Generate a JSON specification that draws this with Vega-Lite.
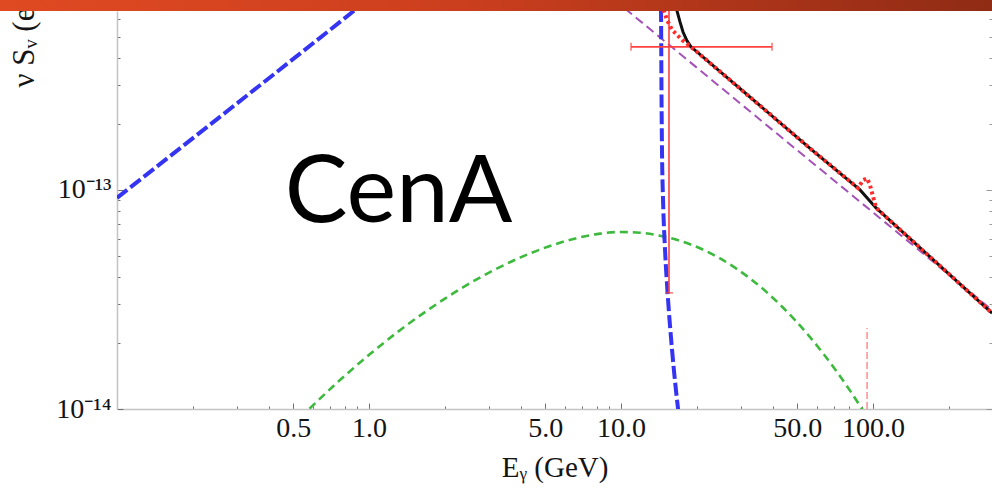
{
  "$schema": "https://vega.github.io/schema/vega-lite/v6.json",
  "width": 875,
  "height": 398,
  "autosize": {"type": "none"},
  "padding": {"left": 117, "top": 11, "right": 0, "bottom": 86},
  "background": "white",
  "config": {
    "view": {"stroke": null},
    "axis": {"grid": false}
  },
  "datasets": {
    "curves": [
      {"c": "blue", "E": 0.1, "S": 9.2e-14},
      {"c": "blue", "E": 1.0, "S": 7.45e-13},
      {"c": "blue", "E": 1.5, "S": 1.08e-12},
      {"c": "blue", "E": 5.0, "S": 3.0e-12},
      {"c": "blue", "E": 14.28, "S": 1.12e-12},
      {"c": "blue", "E": 14.41, "S": 6.56e-13},
      {"c": "blue", "E": 14.48, "S": 2.58e-13},
      {"c": "blue", "E": 14.54, "S": 1.52e-13},
      {"c": "blue", "E": 14.68, "S": 9.0e-14},
      {"c": "blue", "E": 14.95, "S": 5.32e-14},
      {"c": "blue", "E": 15.37, "S": 3.15e-14},
      {"c": "blue", "E": 15.94, "S": 1.86e-14},
      {"c": "blue", "E": 16.84, "S": 1.0e-14},
      {"c": "blue", "E": 17.47, "S": 7.2e-15},

      {"c": "green", "E": 0.532, "S": 9.15e-15},
      {"c": "green", "E": 0.578, "S": 1.0e-14},
      {"c": "green", "E": 0.767, "S": 1.356e-14},
      {"c": "green", "E": 1.009, "S": 1.781e-14},
      {"c": "green", "E": 1.327, "S": 2.29e-14},
      {"c": "green", "E": 1.746, "S": 2.873e-14},
      {"c": "green", "E": 2.297, "S": 3.527e-14},
      {"c": "green", "E": 3.021, "S": 4.215e-14},
      {"c": "green", "E": 3.973, "S": 4.909e-14},
      {"c": "green", "E": 5.228, "S": 5.549e-14},
      {"c": "green", "E": 6.876, "S": 6.075e-14},
      {"c": "green", "E": 8.254, "S": 6.316e-14},
      {"c": "green", "E": 9.909, "S": 6.43e-14},
      {"c": "green", "E": 11.9, "S": 6.377e-14},
      {"c": "green", "E": 14.28, "S": 6.184e-14},
      {"c": "green", "E": 18.79, "S": 5.65e-14},
      {"c": "green", "E": 24.71, "S": 4.867e-14},
      {"c": "green", "E": 32.5, "S": 3.944e-14},
      {"c": "green", "E": 42.76, "S": 2.994e-14},
      {"c": "green", "E": 56.23, "S": 2.128e-14},
      {"c": "green", "E": 73.96, "S": 1.412e-14},
      {"c": "green", "E": 90.44, "S": 1.0e-14},
      {"c": "green", "E": 97.3, "S": 8.74e-15},

      {"c": "purple", "E": 5.73, "S": 1.18e-12},
      {"c": "purple", "E": 49.93, "S": 1.52e-13},
      {"c": "purple", "E": 296.6, "S": 2.83e-14},

      {"c": "black", "E": 16.23, "S": 9.1e-13},
      {"c": "black", "E": 16.68, "S": 6.56e-13},
      {"c": "black", "E": 17.14, "S": 5.85e-13},
      {"c": "black", "E": 17.62, "S": 5.26e-13},
      {"c": "black", "E": 18.28, "S": 4.79e-13},
      {"c": "black", "E": 18.96, "S": 4.5e-13},
      {"c": "black", "E": 57.3, "S": 1.52e-13},
      {"c": "black", "E": 88.8, "S": 1.0e-13},
      {"c": "black", "E": 102.8, "S": 8.28e-14},
      {"c": "black", "E": 296.6, "S": 2.74e-14},

      {"c": "red", "E": 14.28, "S": 9.1e-13},
      {"c": "red", "E": 14.81, "S": 6.56e-13},
      {"c": "red", "E": 15.22, "S": 5.97e-13},
      {"c": "red", "E": 15.94, "S": 5.38e-13},
      {"c": "red", "E": 17.47, "S": 4.84e-13},
      {"c": "red", "E": 18.96, "S": 4.5e-13},
      {"c": "red", "E": 57.3, "S": 1.52e-13},
      {"c": "red", "E": 87.2, "S": 1.02e-13},
      {"c": "red", "E": 91.3, "S": 1.11e-13},
      {"c": "red", "E": 94.7, "S": 1.13e-13},
      {"c": "red", "E": 97.3, "S": 1.05e-13},
      {"c": "red", "E": 102.8, "S": 8.28e-14},
      {"c": "red", "E": 296.6, "S": 2.74e-14}
    ],
    "measurement": [
      {"E": 15.5, "Elo": 10.96, "Ehi": 39.73, "S": 4.5e-13, "Slo": 3.39e-14, "Shi": 1.0e-12}
    ],
    "limit": [
      {"E": 94.7, "Slo": 1.0e-14, "Shi": 2.34e-14}
    ],
    "annotation": [
      {"text": "CenA", "E": 1.309, "S": 7.14e-14}
    ],
    "header": [
      {"E0": 0.03, "E1": 400, "S0": 6.56e-13, "S1": 9.0e-13}
    ]
  },
  "layer": [
    {
      "layer": [
        {
          "data": {"name": "curves"},
          "transform": [{"filter": "datum.c == 'green'"}],
          "mark": {"type": "line", "clip": true, "interpolate": "monotone", "color": "#3dba3d", "strokeWidth": 2.6, "strokeDash": [8, 5]},
          "encoding": {
            "x": {
              "field": "E", "type": "quantitative",
              "scale": {"type": "log", "domain": [0.1, 296.5], "nice": false},
              "axis": {
                "orient": "bottom",
                "values": [0.2, 0.3, 0.4, 0.5, 0.6, 0.7, 0.8, 0.9, 1, 2, 3, 4, 5, 6, 7, 8, 9, 10, 20, 30, 40, 50, 60, 70, 80, 90, 100, 200],
                "labelExpr": "(datum.value == 0.5 || datum.value == 1 || datum.value == 5 || datum.value == 10 || datum.value == 50 || datum.value == 100) ? format(datum.value, '.1f') : ''",
                "tickSize": {"condition": {"test": "datum.value == 0.5 || datum.value == 1 || datum.value == 5 || datum.value == 10 || datum.value == 50 || datum.value == 100", "value": -6}, "value": -3},
                "tickColor": "#707070",
                "tickWidth": 1,
                "domainColor": "#c4c4c4",
                "domainWidth": 1.5,
                "labelFont": "Liberation Serif",
                "labelFontSize": 28,
                "labelColor": "#141414",
                "labelPadding": 11,
                "labelFlush": false,
                "labelOverlap": false,
                "labelBound": false,
                "title": "Eᵧ (GeV)",
                "titleFont": "Liberation Serif",
                "titleFontSize": 29,
                "titleFontWeight": "normal",
                "titleColor": "#141414",
                "titlePadding": 8,
                "grid": false
              }
            },
            "y": {
              "field": "S", "type": "quantitative",
              "scale": {"type": "log", "domain": [1e-14, 6.56e-13], "nice": false},
              "axis": {
                "orient": "left",
                "values": [1e-14, 2e-14, 3e-14, 4e-14, 5e-14, 6e-14, 7e-14, 8e-14, 9e-14, 1e-13, 2e-13, 3e-13, 4e-13, 5e-13, 6e-13],
                "labelExpr": "datum.value == 1e-13 ? '10⁻¹³' : datum.value == 1e-14 ? '10⁻¹⁴' : ''",
                "tickSize": {"condition": {"test": "datum.value == 1e-13 || datum.value == 1e-14", "value": -6}, "value": -3},
                "tickColor": "#707070",
                "tickWidth": 1,
                "domainColor": "#c4c4c4",
                "domainWidth": 1.5,
                "labelFont": "Liberation Serif",
                "labelFontSize": 28,
                "labelColor": "#141414",
                "labelPadding": 12,
                "labelFlush": false,
                "labelOverlap": false,
                "labelBound": false,
                "title": "ν Sᵥ (erg cm⁻² s⁻¹)",
                "titleFont": "Liberation Serif",
                "titleFontSize": 31,
                "titleFontWeight": "normal",
                "titleColor": "#141414",
                "titleAngle": 270,
                "titleAlign": "left",
                "titleBaseline": "alphabetic",
                "titleX": -84,
                "titleY": 76,
                "grid": false
              }
            }
          }
        },
        {
          "data": {"name": "curves"},
          "transform": [{"filter": "datum.c == 'purple'"}],
          "mark": {"type": "line", "clip": true, "color": "#a452b8", "strokeWidth": 2, "strokeDash": [9, 5]},
          "encoding": {
            "x": {"field": "E", "type": "quantitative", "scale": {"type": "log", "domain": [0.1, 296.5], "nice": false}},
            "y": {"field": "S", "type": "quantitative", "scale": {"type": "log", "domain": [1e-14, 6.56e-13], "nice": false}}
          }
        },
        {
          "data": {"name": "curves"},
          "transform": [{"filter": "datum.c == 'blue'"}],
          "mark": {"type": "line", "clip": true, "interpolate": "monotone", "color": "#3434f2", "strokeWidth": 4, "strokeDash": [13, 4]},
          "encoding": {
            "x": {"field": "E", "type": "quantitative", "scale": {"type": "log", "domain": [0.1, 296.5], "nice": false}},
            "y": {"field": "S", "type": "quantitative", "scale": {"type": "log", "domain": [1e-14, 6.56e-13], "nice": false}}
          }
        },
        {
          "data": {"name": "measurement"},
          "mark": {"type": "rule", "clip": true, "color": "#ff4040", "strokeWidth": 1.6},
          "encoding": {
            "x": {"field": "Elo", "type": "quantitative", "scale": {"type": "log", "domain": [0.1, 296.5], "nice": false}},
            "x2": {"field": "Ehi"},
            "y": {"field": "S", "type": "quantitative", "scale": {"type": "log", "domain": [1e-14, 6.56e-13], "nice": false}}
          }
        },
        {
          "data": {"name": "measurement"},
          "mark": {"type": "rule", "clip": true, "color": "#ff4040", "strokeWidth": 1.6},
          "encoding": {
            "x": {"field": "E", "type": "quantitative", "scale": {"type": "log", "domain": [0.1, 296.5], "nice": false}},
            "y": {"field": "Slo", "type": "quantitative", "scale": {"type": "log", "domain": [1e-14, 6.56e-13], "nice": false}},
            "y2": {"field": "Shi"}
          }
        },
        {
          "data": {"name": "measurement"},
          "mark": {"type": "tick", "orient": "vertical", "color": "#ff4040", "size": 8, "thickness": 1.6},
          "encoding": {
            "x": {"field": "Elo", "type": "quantitative", "scale": {"type": "log", "domain": [0.1, 296.5], "nice": false}},
            "y": {"field": "S", "type": "quantitative", "scale": {"type": "log", "domain": [1e-14, 6.56e-13], "nice": false}}
          }
        },
        {
          "data": {"name": "measurement"},
          "mark": {"type": "tick", "orient": "vertical", "color": "#ff4040", "size": 8, "thickness": 1.6},
          "encoding": {
            "x": {"field": "Ehi", "type": "quantitative", "scale": {"type": "log", "domain": [0.1, 296.5], "nice": false}},
            "y": {"field": "S", "type": "quantitative", "scale": {"type": "log", "domain": [1e-14, 6.56e-13], "nice": false}}
          }
        },
        {
          "data": {"name": "measurement"},
          "mark": {"type": "tick", "orient": "horizontal", "color": "#ff4040", "size": 8, "thickness": 1.6},
          "encoding": {
            "x": {"field": "E", "type": "quantitative", "scale": {"type": "log", "domain": [0.1, 296.5], "nice": false}},
            "y": {"field": "Slo", "type": "quantitative", "scale": {"type": "log", "domain": [1e-14, 6.56e-13], "nice": false}}
          }
        },
        {
          "data": {"name": "curves"},
          "transform": [{"filter": "datum.c == 'black'"}],
          "mark": {"type": "line", "clip": true, "color": "#111111", "strokeWidth": 3},
          "encoding": {
            "x": {"field": "E", "type": "quantitative", "scale": {"type": "log", "domain": [0.1, 296.5], "nice": false}},
            "y": {"field": "S", "type": "quantitative", "scale": {"type": "log", "domain": [1e-14, 6.56e-13], "nice": false}}
          }
        },
        {
          "data": {"name": "curves"},
          "transform": [{"filter": "datum.c == 'red'"}],
          "mark": {"type": "line", "clip": true, "color": "#ff2b2b", "strokeWidth": 4, "strokeDash": [3, 3]},
          "encoding": {
            "x": {"field": "E", "type": "quantitative", "scale": {"type": "log", "domain": [0.1, 296.5], "nice": false}},
            "y": {"field": "S", "type": "quantitative", "scale": {"type": "log", "domain": [1e-14, 6.56e-13], "nice": false}}
          }
        },
        {
          "data": {"name": "annotation"},
          "mark": {"type": "text", "font": "Lato", "fontSize": 94, "align": "center", "baseline": "alphabetic", "color": "#000000"},
          "encoding": {
            "x": {"field": "E", "type": "quantitative", "scale": {"type": "log", "domain": [0.1, 296.5], "nice": false}},
            "y": {"field": "S", "type": "quantitative", "scale": {"type": "log", "domain": [1e-14, 6.56e-13], "nice": false}},
            "text": {"field": "text"}
          }
        },
        {
          "data": {"name": "header"},
          "mark": {
            "type": "rect",
            "clip": false,
            "color": {
              "gradient": "linear", "x1": 0, "y1": 0, "x2": 1, "y2": 0,
              "stops": [
                {"offset": 0, "color": "#e04a22"},
                {"offset": 0.45, "color": "#cc3f1e"},
                {"offset": 1, "color": "#8c2a14"}
              ]
            }
          },
          "encoding": {
            "x": {"field": "E0", "type": "quantitative", "scale": {"type": "log", "domain": [0.1, 296.5], "nice": false}},
            "x2": {"field": "E1"},
            "y": {"field": "S0", "type": "quantitative", "scale": {"type": "log", "domain": [1e-14, 6.56e-13], "nice": false}},
            "y2": {"field": "S1"}
          }
        }
      ]
    },
    {
      "data": {"name": "limit"},
      "mark": {"type": "rule", "clip": true, "color": "#ff8c8c", "strokeWidth": 1.5, "strokeDash": [7, 3]},
      "encoding": {
        "x": {"field": "E", "type": "quantitative", "scale": {"type": "log", "domain": [0.1, 296.5], "nice": false}},
        "y": {
          "field": "Slo", "type": "quantitative",
          "scale": {"type": "log", "domain": [1e-14, 6.56e-13], "nice": false},
          "axis": {
            "orient": "right",
            "values": [1e-14, 2e-14, 3e-14, 4e-14, 5e-14, 6e-14, 7e-14, 8e-14, 9e-14, 1e-13, 2e-13, 3e-13, 4e-13, 5e-13, 6e-13],
            "labels": false,
            "domain": false,
            "title": null,
            "tickSize": {"condition": {"test": "datum.value == 1e-13 || datum.value == 1e-14", "value": -6}, "value": -3},
            "tickColor": "#9a9a9a",
            "tickWidth": 1,
            "grid": false
          }
        },
        "y2": {"field": "Shi"}
      }
    }
  ],
  "resolve": {"scale": {"y": "independent"}}
}
